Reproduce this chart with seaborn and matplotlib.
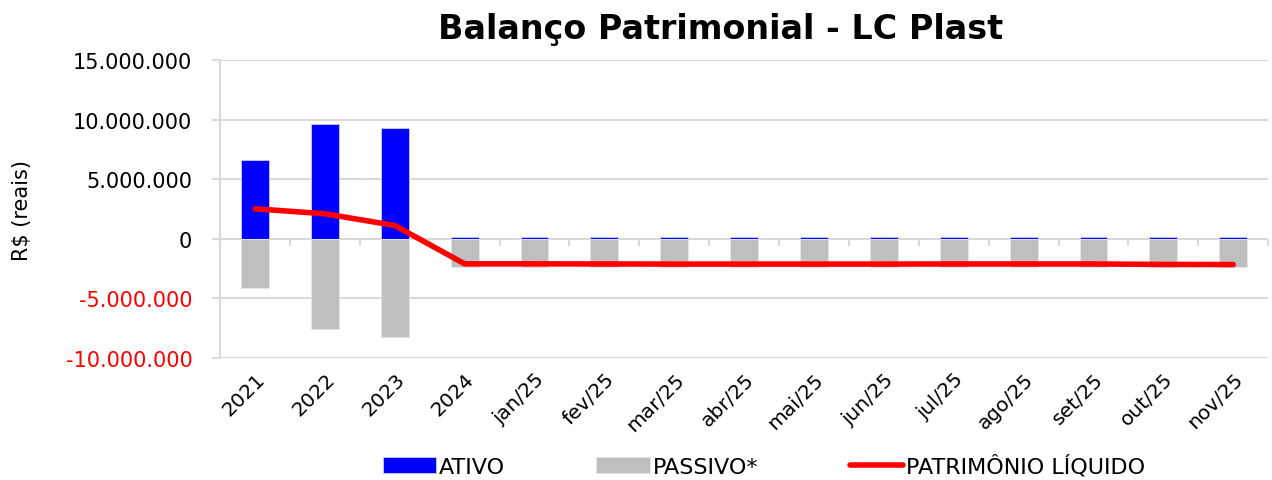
import numpy as np
import pandas as pd
import seaborn as sns
from matplotlib import pyplot as plt
from matplotlib.ticker import FuncFormatter, FixedLocator

categorias = ["2021", "2022", "2023", "2024", "jan/25", "fev/25", "mar/25", "abr/25",
              "mai/25", "jun/25", "jul/25", "ago/25", "set/25", "out/25", "nov/25"]
ativo = [6650000, 9670000, 9290000, 180000, 170000, 170000, 170000, 170000,
         160000, 160000, 160000, 160000, 160000, 150000, 130000]
passivo = [-4110000, -7550000, -8200000, -2380000, -2380000, -2380000, -2380000, -2380000,
           -2380000, -2380000, -2380000, -2380000, -2380000, -2380000, -2380000]
patrimonio = [2520000, 2100000, 1120000, -2100000, -2100000, -2110000, -2120000, -2120000,
              -2120000, -2120000, -2110000, -2110000, -2110000, -2150000, -2160000]

sns.set_theme(style="white")
plt.rcParams['font.family'] = ['DejaVu Sans']
plt.rcParams['text.color'] = 'black'
plt.rcParams['axes.labelcolor'] = 'black'
plt.rcParams['xtick.color'] = 'black'
plt.rcParams['ytick.color'] = 'black'

fig = plt.figure(figsize=(12.72, 4.81), dpi=100)
ax = fig.add_axes([0.173, 0.2536, 0.824, 0.6196])

grid_color = "#d9d9d9"

sns.barplot(x=categorias, y=ativo, color="#0000ff", width=0.4, saturation=1,
            label="ATIVO", ax=ax, zorder=2, edgecolor="#ccccff", linewidth=0.6)
sns.barplot(x=categorias, y=passivo, color="#bfbfbf", width=0.4, saturation=1,
            label="PASSIVO*", ax=ax, zorder=2, edgecolor="#e6e6e6", linewidth=0.6)
sns.lineplot(x=np.arange(len(categorias)), y=patrimonio, color="#ff0000", linewidth=4,
             sort=False, label="PATRIMÔNIO LÍQUIDO", ax=ax, zorder=3,
             solid_capstyle="round")

ax.set_ylim(-10000000, 15000000)
ax.set_xlim(-0.5, len(categorias) - 0.5)
ax.yaxis.set_major_locator(FixedLocator(np.arange(-10000000, 15000001, 5000000)))
ax.yaxis.set_major_formatter(FuncFormatter(lambda v, p: f"{v:,.0f}".replace(",", ".")))
ax.grid(axis="y", color=grid_color, linewidth=1.5, zorder=0)
ax.set_axisbelow(True)

for s in ["top", "right", "bottom"]:
    ax.spines[s].set_visible(False)
ax.spines["left"].set_color(grid_color)
ax.spines["left"].set_linewidth(1.5)

ax.tick_params(axis="y", left=True, length=6, width=1.5, color=grid_color,
               labelsize=15, pad=14, labelcolor="black")
for lbl in ax.get_yticklabels():
    if lbl.get_text().startswith("-"):
        lbl.set_color("#ff0000")

ax.tick_params(axis="x", bottom=False, labelsize=14.5, pad=2, labelcolor="black")
plt.setp(ax.get_xticklabels(), rotation=45, ha="right", rotation_mode="anchor")

# small category ticks on the zero line
zero_pos = (0 - ax.get_ylim()[0]) / (ax.get_ylim()[1] - ax.get_ylim()[0])
sec = ax.secondary_xaxis(zero_pos)
sec.set_xticks(np.arange(-0.5, len(categorias), 1.0))
sec.tick_params(axis="x", direction="out", length=5, width=1.5, color=grid_color,
                labelbottom=False, labeltop=False, bottom=True, top=False)
sec.spines["bottom"].set_visible(False)
sec.spines["top"].set_visible(False)

ax.set_xlabel("")
ax.set_ylabel("R$ (reais)", fontsize=15, labelpad=24)
ax.set_title("Balanço Patrimonial - LC Plast", fontsize=24, fontweight="bold", pad=16,
             color="black", x=0.478)

handles, labels = ax.get_legend_handles_labels()
order = [labels.index(n) for n in ["ATIVO", "PASSIVO*", "PATRIMÔNIO LÍQUIDO"]]
ax.legend([handles[i] for i in order], [labels[i] for i in order],
          loc="center", bbox_to_anchor=(0.519, -0.36), ncol=3, frameon=False,
          fontsize=16, columnspacing=4.1, handlelength=2.4, handleheight=0.7,
          handletextpad=0.14)

fig.savefig("out.png", dpi=100)
